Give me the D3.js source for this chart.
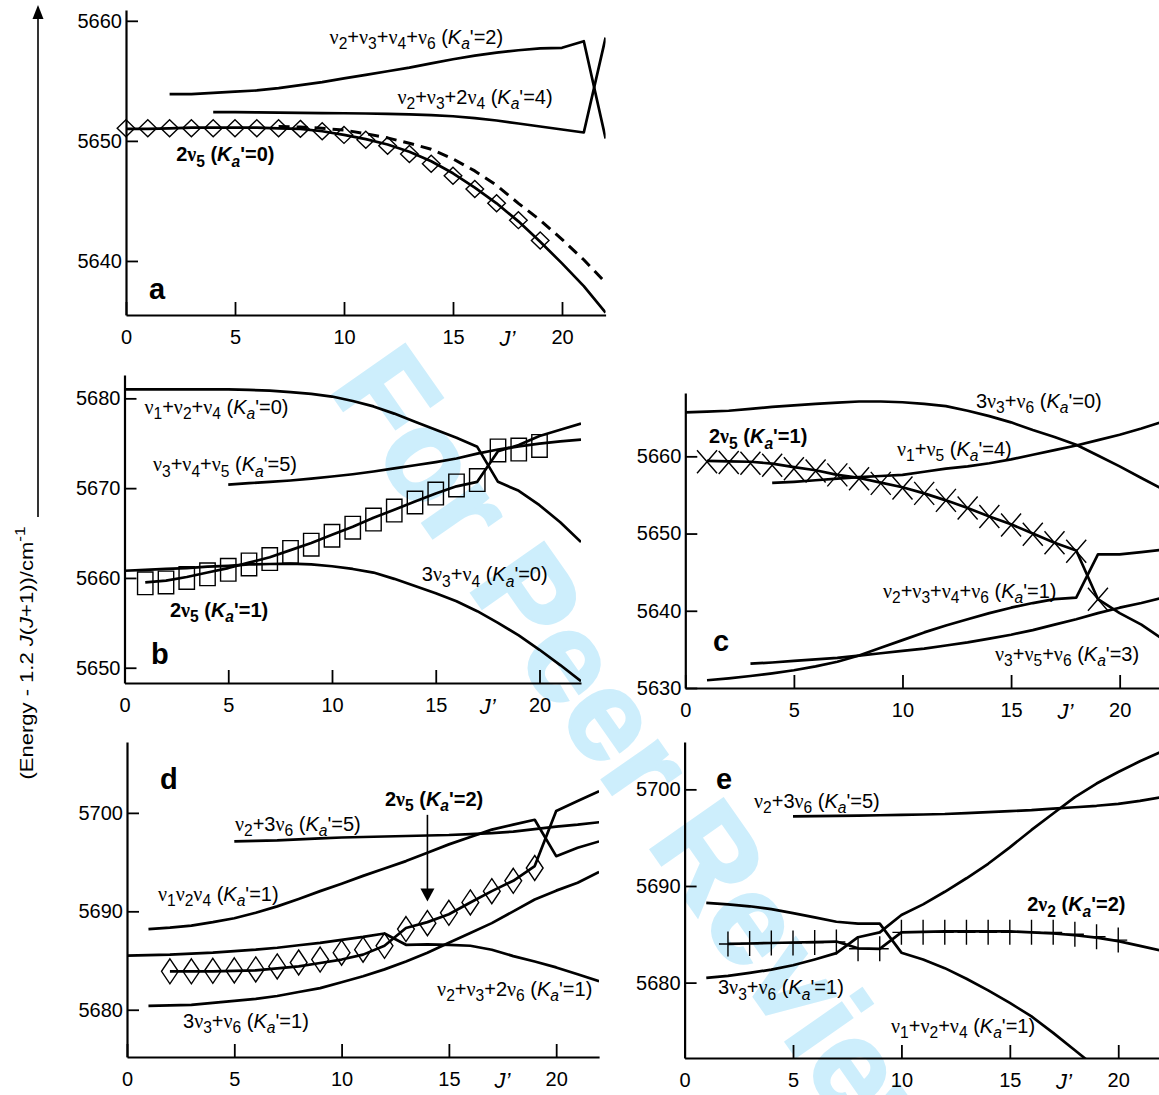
<!DOCTYPE html>
<html>
<head>
<meta charset="utf-8">
<script src="https://cdn.jsdelivr.net/npm/d3@7"></script>
<style>
  body { margin: 0; background: #fff; }
  svg { display: block; }
</style>
</head>
<body>
<svg id="fig" width="1159" height="1095"></svg>
<script>
// term values (Energy - 1.2 J(J+1)) in cm-1 against J'
var xTickLabels = [0, 5, 10, 15, 20];
var a_yTicks = [5640, 5650, 5660];
var b_yTicks = [5650, 5660, 5670, 5680];
var c_yTicks = [5630, 5640, 5650, 5660];
var d_yTicks = [5680, 5690, 5700];
var e_yTicks = [5680, 5690, 5700];

// ---- panel a ----
var a_v2v3v4v6 = [[2,5653.9],[3,5653.9],[4,5654.0],[5,5654.1],[6,5654.2],[7,5654.4],[8,5654.65],[9,5654.9],[10,5655.2],[11,5655.5],[12,5655.8],[13,5656.1],[14,5656.45],[15,5656.8],[16,5657.1],[17,5657.35],[18,5657.55],[19,5657.7],[20,5657.75],[21,5658.3],[22,5650.2]];
var a_v2v3_2v4 = [[4,5652.4],[5,5652.4],[6,5652.38],[7,5652.36],[8,5652.34],[9,5652.32],[10,5652.3],[11,5652.28],[12,5652.25],[13,5652.2],[14,5652.15],[15,5652.05],[16,5651.9],[17,5651.7],[18,5651.45],[19,5651.2],[20,5650.95],[21,5650.7],[22,5658.6]];
var a_2v5_calc = [[0,5651.0],[1,5651.0],[2,5651.05],[3,5651.1],[4,5651.1],[5,5651.1],[6,5651.1],[7,5651.05],[8,5651.0],[9,5650.8],[10,5650.5],[11,5650.15],[12,5649.7],[13,5649.1],[14,5648.3],[15,5647.3],[16,5646.1],[17,5644.8],[18,5643.3],[19,5641.6],[20,5639.8],[21,5637.9],[22,5635.7]];
var a_2v5_dash = [[7,5651.2],[8,5651.15],[9,5651.05],[10,5650.9],[11,5650.6],[12,5650.25],[13,5649.8],[14,5649.3],[15,5648.5],[16,5647.5],[17,5646.3],[18,5644.8],[19,5643.4],[20,5641.8],[21,5640.1],[22,5638.2]];
var a_2v5_obs = [[0,5651.05],[1,5651.05],[2,5651.05],[3,5651.05],[4,5651.05],[5,5651.05],[6,5651.05],[7,5651.05],[8,5651.0],[9,5650.8],[10,5650.5],[11,5650.1],[12,5649.6],[13,5648.9],[14,5648.1],[15,5647.1],[16,5646.0],[17,5644.8],[18,5643.4],[19,5641.7]];

// ---- panel b ----
var b_v1v2v4 = [[0,5681.0],[1,5681.0],[2,5681.0],[3,5681.0],[4,5681.0],[5,5681.0],[6,5680.95],[7,5680.85],[8,5680.7],[9,5680.5],[10,5680.2],[11,5679.7],[12,5679.1],[13,5678.3],[14,5677.4],[15,5676.5],[16,5675.6],[17,5674.6],[18,5670.7],[19,5669.7],[20,5668.1],[21,5666.2],[22,5664.0]];
var b_v3v4v5 = [[5,5670.4],[6,5670.55],[7,5670.7],[8,5670.85],[9,5671.05],[10,5671.3],[11,5671.55],[12,5671.85],[13,5672.2],[14,5672.55],[15,5672.9],[16,5673.3],[17,5673.85],[18,5674.3],[19,5674.65],[20,5674.95],[21,5675.2],[22,5675.4]];
var b_2v5_calc = [[1,5659.5],[2,5659.7],[3,5660.1],[4,5660.6],[5,5661.1],[6,5661.7],[7,5662.3],[8,5663.1],[9,5663.9],[10,5664.8],[11,5665.7],[12,5666.7],[13,5667.6],[14,5668.5],[15,5669.4],[16,5670.2],[17,5670.7],[18,5674.1],[19,5674.8],[20,5675.8],[21,5676.5],[22,5677.2]];
var b_2v5_obs = [[1,5659.4],[2,5659.5],[3,5660.0],[4,5660.4],[5,5660.9],[6,5661.5],[7,5662.1],[8,5662.9],[9,5663.7],[10,5664.7],[11,5665.6],[12,5666.5],[13,5667.5],[14,5668.4],[15,5669.4],[16,5670.3],[17,5670.9],[18,5674.2],[19,5674.3],[20,5674.7]];
var b_3v3v4 = [[0,5660.8],[1,5660.9],[2,5661.0],[3,5661.1],[4,5661.25],[5,5661.35],[6,5661.5],[7,5661.55],[8,5661.6],[9,5661.5],[10,5661.3],[11,5661.0],[12,5660.6],[13,5659.9],[14,5659.1],[15,5658.3],[16,5657.4],[17,5656.3],[18,5655.0],[19,5653.6],[20,5652.0],[21,5650.3],[22,5648.5]];

// ---- panel c ----
var c_3v3v6 = [[0,5665.7],[1,5665.8],[2,5665.9],[3,5666.15],[4,5666.4],[5,5666.6],[6,5666.8],[7,5666.95],[8,5667.1],[9,5667.1],[10,5667.0],[11,5666.8],[12,5666.5],[13,5665.9],[14,5665.2],[15,5664.4],[16,5663.4],[17,5662.5],[18,5661.5],[19,5660.1],[20,5658.7],[21,5657.2],[22,5655.7]];
var c_v1v5 = [[4,5656.55],[5,5656.7],[6,5656.9],[7,5657.1],[8,5657.3],[9,5657.45],[10,5657.6],[11,5658.0],[12,5658.4],[13,5658.7],[14,5659.1],[15,5659.6],[16,5660.2],[17,5660.8],[18,5661.4],[19,5662.1],[20,5662.8],[21,5663.6],[22,5664.5]];
var c_2v5_calc = [[1,5659.4],[2,5659.35],[3,5659.3],[4,5659.05],[5,5658.6],[6,5658.2],[7,5657.6],[8,5657.2],[9,5656.6],[10,5656.0],[11,5655.2],[12,5654.3],[13,5653.3],[14,5652.2],[15,5651.2],[16,5650.0],[17,5648.8],[18,5647.8],[19,5641.5],[20,5639.7],[21,5638.2],[22,5636.3]];
var c_2v5_obs = [[1,5659.3],[2,5659.2],[3,5659.1],[4,5658.85],[5,5658.4],[6,5658.1],[7,5657.6],[8,5657.1],[9,5656.5],[10,5655.9],[11,5655.2],[12,5654.3],[13,5653.3],[14,5652.2],[15,5651.1],[16,5649.9],[17,5648.8],[18,5647.7],[19,5641.5]];
var c_v2v3v4v6 = [[1,5631.0],[2,5631.25],[3,5631.55],[4,5631.9],[5,5632.3],[6,5632.8],[7,5633.4],[8,5634.2],[9,5635.2],[10,5636.2],[11,5637.2],[12,5638.1],[13,5638.9],[14,5639.7],[15,5640.4],[16,5641.0],[17,5641.5],[18,5641.7],[19,5647.3],[20,5647.3],[21,5647.6],[22,5647.9]];
var c_v3v5v6 = [[3,5633.15],[4,5633.3],[5,5633.5],[6,5633.7],[7,5633.9],[8,5634.2],[9,5634.5],[10,5634.8],[11,5635.1],[12,5635.5],[13,5635.9],[14,5636.4],[15,5636.9],[16,5637.5],[17,5638.2],[18,5638.9],[19,5639.7],[20,5640.4],[21,5641.0],[22,5641.7]];

// ---- panel d ----
var d_v2_3v6 = [[5,5697.1],[6,5697.15],[7,5697.2],[8,5697.3],[9,5697.4],[10,5697.5],[11,5697.55],[12,5697.6],[13,5697.65],[14,5697.7],[15,5697.75],[16,5697.85],[17,5697.95],[18,5698.1],[19,5698.35],[20,5698.6],[21,5698.8],[22,5699.05]];
var d_v1v2v4 = [[1,5688.2],[2,5688.35],[3,5688.55],[4,5688.9],[5,5689.3],[6,5689.85],[7,5690.5],[8,5691.25],[9,5692.05],[10,5692.8],[11,5693.6],[12,5694.35],[13,5695.1],[14,5695.95],[15,5696.8],[16,5697.55],[17,5698.3],[18,5698.8],[19,5699.3],[20,5695.6],[21,5696.45],[22,5697.1]];
var d_v2v3_2v6 = [[0,5685.5],[1,5685.55],[2,5685.6],[3,5685.7],[4,5685.8],[5,5685.95],[6,5686.1],[7,5686.3],[8,5686.55],[9,5686.8],[10,5687.1],[11,5687.4],[12,5687.75],[13,5686.6],[14,5686.65],[15,5686.6],[16,5686.5],[17,5686.1],[18,5685.45],[19,5684.9],[20,5684.3],[21,5683.6],[22,5682.9]];
var d_2v5_calc = [[2,5683.9],[3,5683.9],[4,5683.9],[5,5683.95],[6,5684.0],[7,5684.2],[8,5684.4],[9,5684.75],[10,5685.1],[11,5685.6],[12,5686.5],[13,5688.3],[14,5688.9],[15,5689.7],[16,5690.9],[17,5692.05],[18,5693.1],[19,5694.6],[20,5700.2],[21,5701.2],[22,5702.2]];
var d_2v5_obs = [[2,5683.9],[3,5683.9],[4,5683.95],[5,5684.0],[6,5684.1],[7,5684.4],[8,5684.8],[9,5685.1],[10,5685.8],[11,5686.1],[12,5686.5],[13,5688.2],[14,5688.8],[15,5689.85],[16,5690.9],[17,5692.05],[18,5693.1],[19,5694.4]];
var d_3v3v6 = [[1,5680.4],[2,5680.45],[3,5680.5],[4,5680.7],[5,5680.9],[6,5681.1],[7,5681.4],[8,5681.8],[9,5682.2],[10,5682.8],[11,5683.4],[12,5684.1],[13,5684.9],[14,5685.8],[15,5686.8],[16,5687.8],[17,5688.8],[18,5690.0],[19,5691.2],[20,5692.1],[21,5692.9],[22,5694.0]];

// ---- panel e ----
var e_v2_3v6 = [[5,5697.2],[6,5697.22],[7,5697.25],[8,5697.28],[9,5697.32],[10,5697.35],[11,5697.4],[12,5697.45],[13,5697.55],[14,5697.65],[15,5697.75],[16,5697.85],[17,5698.0],[18,5698.15],[19,5698.3],[20,5698.5],[21,5698.8],[22,5699.2]];
var e_3v3v6 = [[1,5680.5],[2,5680.7],[3,5681.0],[4,5681.35],[5,5681.8],[6,5682.4],[7,5683.05],[8,5684.7],[9,5685.2],[10,5687.0],[11,5688.1],[12,5689.4],[13,5690.8],[14,5692.3],[15,5694.0],[16,5695.8],[17,5697.5],[18,5699.2],[19,5700.6],[20,5701.8],[21,5702.9],[22,5703.9]];
var e_v1v2v4 = [[1,5688.25],[2,5688.1],[3,5687.9],[4,5687.6],[5,5687.2],[6,5686.75],[7,5686.3],[8,5686.1],[9,5686.1],[10,5683.1],[11,5682.4],[12,5681.5],[13,5680.4],[14,5679.2],[15,5677.9],[16,5676.5],[17,5674.8],[18,5673.0],[19,5671.2]];
var e_2v2_calc = [[2,5684.0],[3,5684.05],[4,5684.1],[5,5684.15],[6,5684.2],[7,5684.25],[8,5683.55],[9,5683.5],[10,5685.2],[11,5685.25],[12,5685.3],[13,5685.3],[14,5685.3],[15,5685.3],[16,5685.2],[17,5685.1],[18,5684.9],[19,5684.65],[20,5684.3],[21,5683.8],[22,5683.3]];
var e_2v2_obs = [[2,5684.0],[3,5684.05],[4,5684.1],[5,5684.1],[6,5684.15],[7,5684.2],[8,5683.5],[9,5683.5],[10,5685.2],[11,5685.2],[12,5685.2],[13,5685.2],[14,5685.2],[15,5685.2],[16,5685.2],[17,5685.2],[18,5685.0],[19,5684.75],[20,5684.4]];

var SANS = '"Liberation Sans", Arial, Helvetica, sans-serif';
var SERIF = '"Liberation Serif", "Times New Roman", serif';
var LABEL_FS = 20;

// layout of the five panels; labels are placed in data coordinates (J', energy)
var panels = [
  {key: 'a', xr: [126, 605.6], yr: [315, 10], yd: [5635.5, 5660.9], yTicks: a_yTicks,
   lines: [{d: a_v2v3v4v6}, {d: a_v2v3_2v4}, {d: a_2v5_calc}, {d: a_2v5_dash, dash: '11,7'}],
   marks: {d: a_2v5_obs, shape: 'diamond', w: 8.8, h: 8.5},
   letter: [1.05, 5636.8],
   labels: [
     {t: 'ν_2+ν_3+ν_4+ν_6 (*K_a*\'=2)', at: [9.34, 5658.1]},
     {t: 'ν_2+ν_3+2ν_4 (*K_a*\'=4)', at: [12.45, 5653.1]},
     {t: '2ν_5 (*K_a*\'=0)', at: [2.3, 5648.3], bold: true}
   ]},
  {key: 'b', xr: [124.5, 581], yr: [683, 375], yd: [5648.3, 5682.6], yTicks: b_yTicks,
   lines: [{d: b_v1v2v4}, {d: b_v3v4v5}, {d: b_2v5_calc}, {d: b_3v3v4}],
   marks: {d: b_2v5_obs, shape: 'square', w: 7.7, h: 11.3},
   letter: [1.28, 5650.4],
   labels: [
     {t: 'ν_1+ν_2+ν_4 (*K_a*\'=0)', at: [0.96, 5678.3]},
     {t: 'ν_3+ν_4+ν_5 (*K_a*\'=5)', at: [1.37, 5671.86]},
     {t: '2ν_5 (*K_a*\'=1)', at: [2.19, 5655.7], bold: true},
     {t: '3ν_3+ν_4 (*K_a*\'=0)', at: [14.33, 5659.63]}
   ]},
  {key: 'c', xr: [685.3, 1163.1], yr: [688, 393], yd: [5630, 5668.2], yTicks: c_yTicks,
   lines: [{d: c_3v3v6}, {d: c_v1v5}, {d: c_2v5_calc}, {d: c_v2v3v4v6}, {d: c_v3v5v6}],
   marks: {d: c_2v5_obs, shape: 'cross', w: 10, h: 11.5},
   letter: [1.27, 5634.8],
   labels: [
     {t: '3ν_3+ν_6 (*K_a*\'=0)', at: [13.38, 5666.27]},
     {t: '2ν_5 (*K_a*\'=1)', at: [1.09, 5661.7], bold: true},
     {t: 'ν_1+ν_5 (*K_a*\'=4)', at: [9.75, 5660.05]},
     {t: 'ν_2+ν_3+ν_4+ν_6 (*K_a*\'=1)', at: [9.1, 5641.66]},
     {t: 'ν_3+ν_5+ν_6 (*K_a*\'=3)', at: [14.26, 5633.5]}
   ]},
  {key: 'd', xr: [127, 599.1], yr: [1057, 742], yd: [5675.2, 5707.2], yTicks: d_yTicks,
   lines: [{d: d_v2_3v6}, {d: d_v1v2v4}, {d: d_v2v3_2v6}, {d: d_2v5_calc}, {d: d_3v3v6}],
   marks: {d: d_2v5_obs, shape: 'diamond', w: 8.4, h: 12.5},
   letter: [1.54, 5702.4],
   arrow: {J: 14, from: 5699.8, to: 5691.0},
   labels: [
     {t: '2ν_5 (*K_a*\'=2)', at: [12.02, 5700.7], bold: true},
     {t: 'ν_2+3ν_6 (*K_a*\'=5)', at: [5.03, 5698.17]},
     {t: 'ν_1ν_2ν_4 (*K_a*\'=1)', at: [1.44, 5691.05]},
     {t: 'ν_2+ν_3+2ν_6 (*K_a*\'=1)', at: [14.45, 5681.4]},
     {t: '3ν_3+ν_6 (*K_a*\'=1)', at: [2.61, 5678.15]}
   ]},
  {key: 'e', xr: [684.6, 1161.6], yr: [1058, 742], yd: [5672.2, 5704.9], yTicks: e_yTicks,
   lines: [{d: e_v2_3v6}, {d: e_3v3v6}, {d: e_v1v2v4}, {d: e_2v2_calc}],
   marks: {d: e_2v2_obs, shape: 'plus', w: 9, h: 12.5},
   letter: [1.45, 5700.05],
   labels: [
     {t: 'ν_2+3ν_6 (*K_a*\'=5)', at: [3.2, 5698.1]},
     {t: '2ν_2 (*K_a*\'=2)', at: [15.8, 5687.4], bold: true},
     {t: '3ν_3+ν_6 (*K_a*\'=1)', at: [1.54, 5678.8]},
     {t: 'ν_1+ν_2+ν_4 (*K_a*\'=1)', at: [9.52, 5674.8]}
   ]}
];

var svg = d3.select('#fig');

// writes a small markup into tspans: _x subscript, ^x superscript, *..* italic
function richText(sel, s, fs) {
  var italic = false, runs = [];
  for (var i = 0; i < s.length; i++) {
    var c = s[i], shift = 0;
    if (c === '*') { italic = !italic; continue; }
    if (c === '_') { shift = 1; c = s[++i]; }
    else if (c === '^') { shift = -1; c = s[++i]; }
    var serif = (c === 'ν');
    var last = runs[runs.length - 1];
    if (last && last.shift === shift && last.italic === italic && last.serif === serif) last.t += c;
    else runs.push({t: c, shift: shift, italic: italic, serif: serif});
  }
  var cur = 0;
  runs.forEach(function(r) {
    var ts = sel.append('tspan').text(r.t);
    var target = r.shift === 1 ? fs * 0.27 : (r.shift === -1 ? -fs * 0.42 : 0);
    if (target !== cur) { ts.attr('dy', target - cur); cur = target; }
    if (r.shift !== 0) ts.attr('font-size', fs * 0.78);
    if (r.italic) ts.attr('font-style', 'italic');
    if (r.serif) ts.attr('font-family', SERIF);
  });
}

// watermark behind everything
svg.append('text')
  .attr('transform', 'translate(328,388) rotate(55)')
  .attr('font-family', SANS)
  .attr('font-weight', 'bold')
  .attr('font-size', 128)
  .attr('fill', '#cdeefc')
  .attr('stroke', '#cdeefc')
  .attr('stroke-width', 3)
  .text('For Peer Review');

// shared y title with arrow
svg.append('line').attr('x1', 38).attr('x2', 38).attr('y1', 517).attr('y2', 16)
  .attr('stroke', '#000').attr('stroke-width', 1.6);
svg.append('path').attr('d', 'M38,5 L32.5,19 L43.5,19 Z').attr('fill', '#000');
var yTitle = svg.append('text')
  .attr('transform', 'translate(33,653) rotate(-90)')
  .attr('text-anchor', 'middle')
  .attr('font-family', SANS)
  .attr('font-size', 18)
  .attr('textLength', 253)
  .attr('lengthAdjust', 'spacingAndGlyphs');
richText(yTitle, '(Energy - 1.2 *J*(*J*+1))/cm^-^1', 18);

var line = d3.line();

panels.forEach(function(p) {
  var x = d3.scaleLinear().domain([0, 22]).range(p.xr);
  var y = d3.scaleLinear().domain(p.yd).range(p.yr);
  var g = svg.append('g').attr('class', 'panel-' + p.key);
  var yBot = p.yr[0];

  // axes: minor ticks every 1 (x) / 2 (y), major ones with labels
  var gx = g.append('g').attr('transform', 'translate(0,' + yBot + ')');
  gx.call(d3.axisBottom(x).tickValues(d3.range(0, 23)).tickSizeInner(-7).tickSizeOuter(0).tickFormat(''));
  gx.call(d3.axisBottom(x).tickValues(xTickLabels).tickSizeInner(-13).tickSizeOuter(0).tickPadding(15).tickFormat(d3.format('d')));

  var yMinor = d3.range(Math.ceil(p.yd[0] / 2) * 2, p.yd[1], 2);
  var gy = g.append('g').attr('transform', 'translate(' + p.xr[0] + ',0)');
  gy.call(d3.axisLeft(y).tickValues(yMinor).tickSizeInner(-7).tickSizeOuter(0).tickFormat(''));
  gy.call(d3.axisLeft(y).tickValues(p.yTicks).tickSizeInner(-12).tickSizeOuter(0).tickPadding(4).tickFormat(d3.format('d')));

  g.selectAll('.domain').attr('stroke', '#000').attr('stroke-width', 2.2);
  g.selectAll('.tick line').attr('stroke', '#000').attr('stroke-width', 1.8);
  g.selectAll('.tick text').attr('font-family', SANS).attr('font-size', 20).attr('fill', '#000');

  g.append('text')
    .attr('x', x(17.5)).attr('y', yBot + 31)
    .attr('text-anchor', 'middle')
    .attr('font-family', SANS).attr('font-size', 22).attr('font-style', 'italic')
    .text('J’');

  // curves, clipped to the frame
  var cid = 'clip-' + p.key;
  svg.append('clipPath').attr('id', cid).append('rect')
    .attr('x', p.xr[0]).attr('y', p.yr[1])
    .attr('width', p.xr[1] - p.xr[0]).attr('height', p.yr[0] - p.yr[1]);
  line.x(function(d) { return x(d[0]); }).y(function(d) { return y(d[1]); });
  var gl = g.append('g').attr('clip-path', 'url(#' + cid + ')');
  p.lines.forEach(function(s) {
    gl.append('path')
      .attr('d', line(s.d))
      .attr('fill', 'none')
      .attr('stroke', '#000')
      .attr('stroke-width', s.dash ? 3 : 2.7)
      .attr('stroke-linejoin', 'round')
      .attr('stroke-dasharray', s.dash || null);
  });

  // observed levels
  var m = p.marks, w = m.w, h = m.h;
  var shapes = {
    diamond: 'M0,' + (-h) + 'L' + w + ',0L0,' + h + 'L' + (-w) + ',0Z',
    square: 'M' + (-w) + ',' + (-h) + 'H' + w + 'V' + h + 'H' + (-w) + 'Z',
    cross: 'M' + (-w) + ',' + (-h) + 'L' + w + ',' + h + 'M' + w + ',' + (-h) + 'L' + (-w) + ',' + h,
    plus: 'M0,' + (-h) + 'V' + h + 'M' + (-w) + ',0H' + w
  };
  g.append('g').selectAll('path').data(m.d).enter().append('path')
    .attr('transform', function(d) { return 'translate(' + x(d[0]) + ',' + y(d[1]) + ')'; })
    .attr('d', shapes[m.shape])
    .attr('fill', 'none')
    .attr('stroke', '#000')
    .attr('stroke-width', 1.4);

  if (p.arrow) {
    var ax = x(p.arrow.J), tip = y(p.arrow.to);
    g.append('line').attr('x1', ax).attr('x2', ax)
      .attr('y1', y(p.arrow.from)).attr('y2', tip - 10)
      .attr('stroke', '#000').attr('stroke-width', 1.6);
    g.append('path')
      .attr('d', 'M' + ax + ',' + tip + 'L' + (ax - 7) + ',' + (tip - 13) + 'L' + (ax + 7) + ',' + (tip - 13) + 'Z')
      .attr('fill', '#000');
  }

  p.labels.forEach(function(l) {
    var t = g.append('text')
      .attr('x', x(l.at[0])).attr('y', y(l.at[1]))
      .attr('font-family', SANS)
      .attr('font-size', LABEL_FS)
      .attr('font-weight', l.bold ? 'bold' : null);
    richText(t, l.t, LABEL_FS);
  });

  g.append('text')
    .attr('x', x(p.letter[0])).attr('y', y(p.letter[1]))
    .attr('font-family', SANS).attr('font-weight', 'bold').attr('font-size', 29)
    .text(p.key);
});
</script>
</body>
</html>
